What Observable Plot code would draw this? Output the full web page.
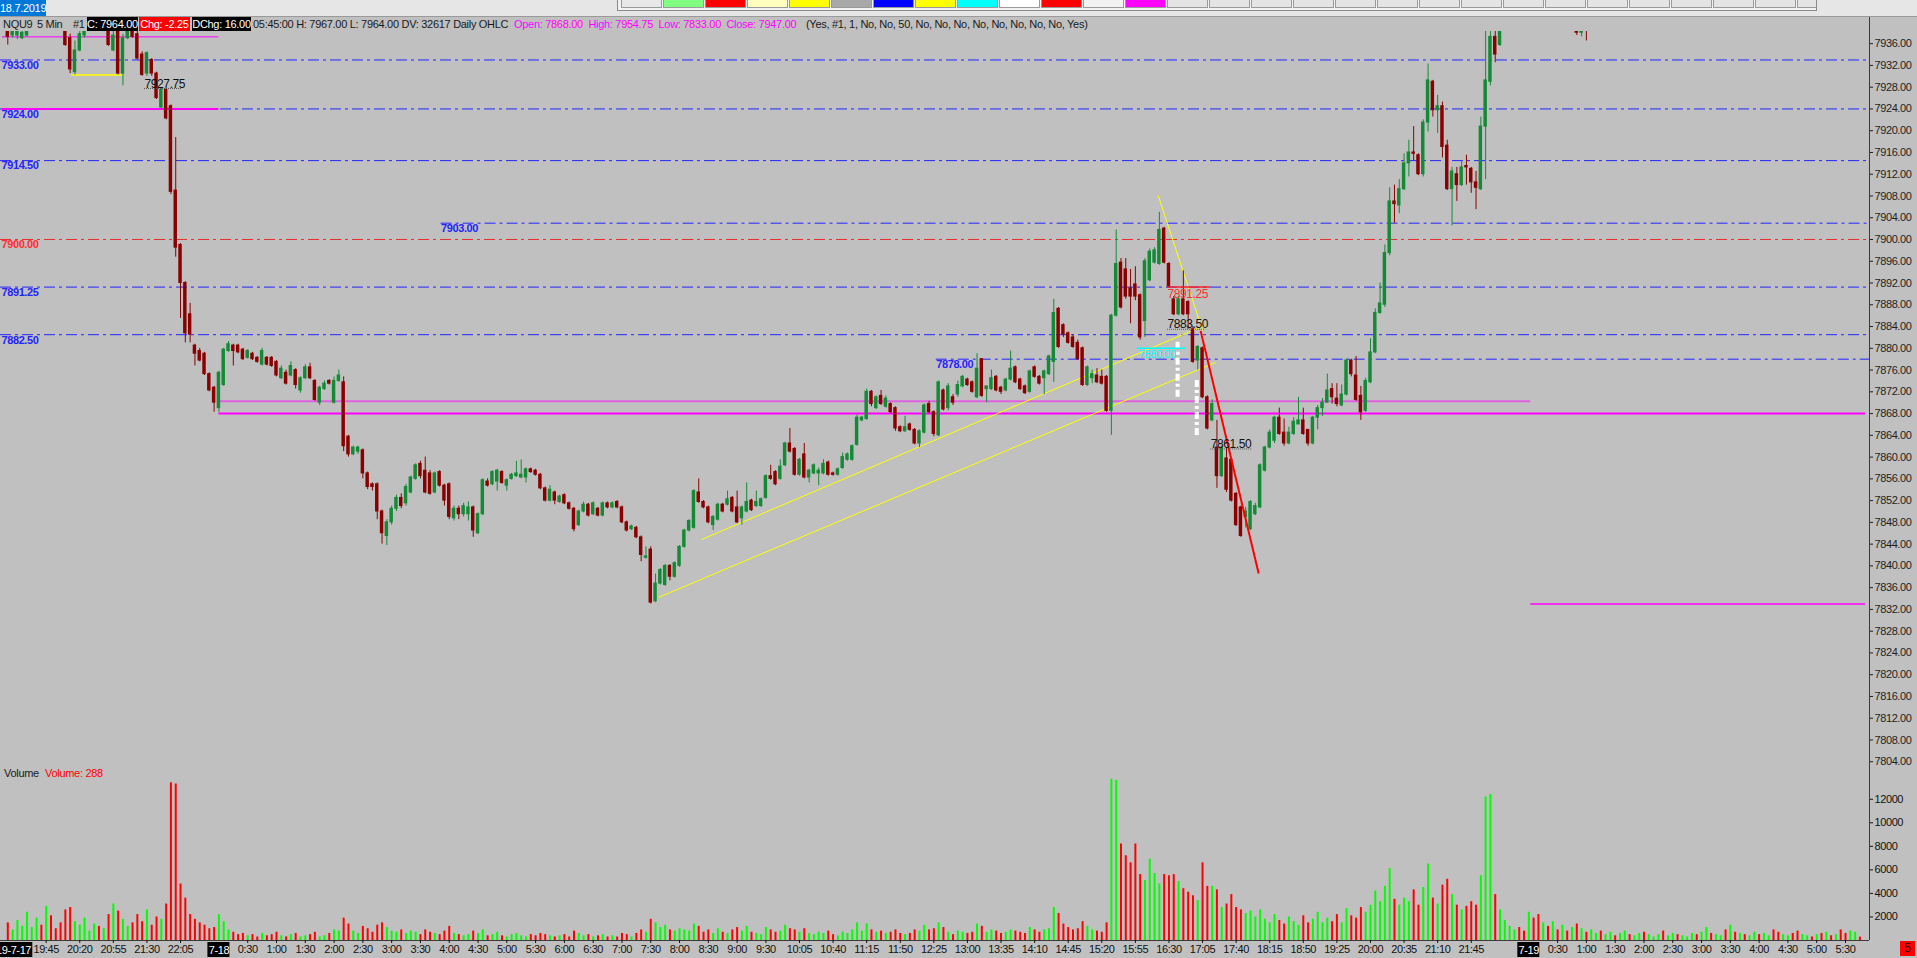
<!DOCTYPE html>
<html><head><meta charset="utf-8">
<script src="https://cdn.jsdelivr.net/npm/d3@7"></script>
<script src="https://cdn.jsdelivr.net/npm/@observablehq/plot@0.6"></script>
<style>
html,body{margin:0;padding:0;background:#c0c0c0;width:1917px;height:958px;overflow:hidden;font-family:"Liberation Sans",Arial,sans-serif;}
#price,#volume{position:absolute;left:0;}
#price{top:0}
#volume{top:770px}
#price svg text,#volume svg text{letter-spacing:-0.4px}
.ov{position:absolute;font-size:11px;line-height:14px;white-space:pre;letter-spacing:-0.3px;color:#1a1a1a}
.box{position:absolute;top:17px;height:14px;line-height:14px;font-size:11px;color:#fff;text-align:center;letter-spacing:-0.3px;white-space:nowrap}
#strip{position:absolute;left:0;top:0;width:1917px;height:16px;background:#e6e6e6;border-bottom:1px solid #9a9a9a}
#datebox{position:absolute;left:0;top:0;width:46px;height:16px;background:#0078d7;color:#fff;font-size:11px;line-height:16px;text-align:center;letter-spacing:-0.3px}
#toolbar{position:absolute;left:617px;top:0;width:1200px;height:11px;background:#f2f2f2;border:1px solid #8a8a8a;border-top:none;display:flex;gap:1px;padding-left:3px;box-sizing:border-box;overflow:hidden}
#toolbar div{flex:0 0 41px;height:8px;border:1px solid #9a9a9a;border-top:none;box-sizing:border-box;background:#e4e4e4}
</style></head><body>
<div id="price"></div>
<div id="volume"></div>
<div id="strip"></div>
<div id="datebox">18.7.2019</div>
<div id="toolbar">
<div style="background:#e8e8e8"></div><div style="background:#80ff80"></div><div style="background:#ff0000"></div><div style="background:#ffffc0"></div><div style="background:#ffff00"></div><div style="background:#a8a8a8"></div><div style="background:#0000ff"></div><div style="background:#ffff00"></div><div style="background:#00ffff"></div><div style="background:#ffffff"></div><div style="background:#ff0000"></div><div style="background:#f2f2f2"></div><div style="background:#ff00ff"></div><div></div><div></div><div></div><div></div><div></div><div></div><div></div><div></div><div></div><div></div><div></div><div></div><div></div><div></div><div></div><div></div>
</div>
<div class="ov" style="left:3px;top:17px">NQU9</div>
<div class="ov" style="left:37px;top:17px">5 Min</div>
<div class="ov" style="left:73px;top:17px">#1</div>
<div class="box" style="left:87px;width:51px;background:#000">C: 7964.00</div>
<div class="box" style="left:139px;width:51px;background:#ff0000">Chg: -2.25</div>
<div class="box" style="left:192px;width:59px;background:#000">DChg: 16.00</div>
<div class="ov" style="left:253px;top:17px">05:45:00 H: 7967.00 L: 7964.00 DV: 32617 Daily OHLC</div>
<div class="ov" style="left:514px;top:17px;color:#ff00ff">Open: 7868.00  High: 7954.75  Low: 7833.00  Close: 7947.00</div>
<div class="ov" style="left:806px;top:17px">(Yes, #1, 1, No, No, 50, No, No, No, No, No, No, No, No, Yes)</div>
<div class="ov" style="left:4px;top:766px">Volume</div>
<div class="ov" style="left:45px;top:766px;color:#ff0000">Volume: 288</div>
<div style="position:absolute;left:1900px;top:941px;width:15px;height:15px;background:#ff0000;color:#400;font-size:12px;line-height:15px;text-align:center">5</div>
<script>
// ---------------- DATA ----------------
const sessions = [
  {name: "2019-7-17", start: "19:05"},
  {name: "7-18", start: "0:00"},
  {name: "7-19", start: "0:00"}
];
// [open, high, low, close]
const candles0717 = [
 [7939.5,7940.5,7935.75,7937.25],[7937.5,7939,7937,7938.25],[7937.5,7939,7936.75,7938.25],[7937,7938.75,7936.75,7938],
 [7937.5,7939.5,7937.25,7938.5],[7938.5,7941.5,7938.25,7941],[7941,7943.25,7940.5,7942.75],[7942.75,7944,7941.5,7942],
 [7942,7945.5,7941.75,7945],[7945,7946.25,7943.5,7944],[7944,7944.75,7941.75,7942.5],[7942.5,7943.5,7940.5,7941.75],
 [7941.75,7942.5,7935.5,7935.75],[7937,7937.75,7930.5,7931.25],[7930.75,7936.5,7930.25,7934.75],[7934.75,7939,7934.5,7937.75],
 [7937.5,7940,7937,7939.5],[7939.25,7941.5,7939,7941],[7941,7943,7940.25,7942.25],[7942.25,7943.5,7941,7941.5],
 [7941.5,7942.75,7940.5,7942],[7942,7943.5,7935.5,7935.75],[7934.75,7939,7934.5,7937.5],[7938.5,7940,7930.25,7930.5],
 [7930.5,7937.75,7928.25,7937],[7937,7940,7936.75,7939.5],[7940,7940.75,7937,7937.25],[7937.75,7939,7933,7933.25],
 [7934,7934.5,7930,7930.25],[7930.5,7934.5,7930,7934.25],[7933,7933.25,7930,7930.5],[7930.5,7930.75,7925.75,7926],
 [7924.25,7927.75,7924,7927.5],[7927.5,7927.75,7922,7922.25],[7924.5,7924.75,7908.25,7908.75],[7909,7918.75,7896.75,7898.5],
 [7899,7899.25,7885.5,7892],[7892,7892.25,7881,7882.75],[7886.25,7888.25,7881,7882.5],[7880.5,7880.75,7876.75,7879],
 [7879.5,7880,7877.5,7877.75],[7879,7879.25,7875,7875.25],[7875.25,7875.5,7872,7872.25],[7872.75,7873,7868.25,7870]
];
const candles0718 = [
 // 0:00
 [7869,7875.75,7868.25,7875.5],[7873.25,7880,7873,7879.75],[7879.5,7881.25,7879.25,7880.75],[7880.5,7880.75,7876.75,7879.5],
 [7880.5,7880.75,7879,7879.25],[7879.75,7880,7877.75,7878],[7878.25,7879.75,7878,7879.5],[7879,7879.25,7877.75,7878],
 [7878.25,7878.5,7877.25,7877.5],[7877,7880,7876.75,7879.5],[7878.25,7878.5,7876.75,7877],[7878.25,7878.5,7876.5,7876.75],
 // 1:00
 [7877.5,7877.75,7874.75,7875],[7874.5,7876.75,7874.25,7876.25],[7875.5,7876,7873.25,7873.5],[7875,7877.5,7874.75,7876.75],
 [7876,7876.25,7872.5,7873.25],[7872.25,7874.75,7871.75,7874.5],[7874.5,7877,7874.25,7876.5],[7876.5,7877.25,7874.25,7874.5],
 [7874,7874.25,7870.25,7870.5],[7870,7873,7869.5,7872.75],[7872.5,7874,7872.25,7873.5],[7874,7874.25,7873.25,7873.5],
 // 2:00
 [7870,7874.75,7869.75,7874],[7874,7876,7873.75,7875],[7873.75,7874.75,7861,7862],[7863.75,7864,7860,7860.5],
 [7860.5,7862,7860.25,7861.75],[7861,7862,7860.5,7861.75],[7861.25,7861.5,7856,7857],[7857,7857.25,7854,7854.5],
 [7855,7855.25,7853.75,7854.5],[7855,7855.25,7848.5,7850],[7850,7850.25,7844,7846],[7845.5,7848.5,7843.75,7848],
 // 3:00
 [7848,7851,7847.5,7850.5],[7850.5,7853,7850,7852.5],[7852.5,7853.25,7850.5,7851],[7851.5,7855,7851,7854.5],
 [7853.5,7856.5,7853.25,7856.25],[7856,7858.75,7855.75,7858.5],[7858.75,7859.25,7856,7856.5],[7857.5,7860,7853.25,7853.5],
 [7857,7857.5,7853,7853.25],[7853.5,7857.25,7853.25,7857],[7857.25,7857.5,7854.5,7854.75],[7854.75,7855,7851,7852],
 // 4:00
 [7855,7855.25,7848.5,7849],[7848.75,7851,7848.25,7850.5],[7850.5,7851,7848.5,7849.5],[7849.5,7851.5,7849,7851],
 [7849.5,7851.75,7848.25,7850.75],[7850.75,7851,7845.25,7846.5],[7846,7849.75,7845.75,7849.5],[7849.5,7856,7849.25,7855.75],
 [7855.5,7856,7854.5,7854.75],[7855,7857.5,7854.75,7857.25],[7855.5,7857.75,7853.75,7857.5],[7857.25,7857.5,7855,7855.25],
 // 5:00
 [7854.75,7856,7853.75,7855.75],[7856,7857,7855.75,7856.75],[7856.5,7859.25,7856.25,7857],[7856.25,7859.5,7856,7856.75],
 [7856.25,7858,7855.25,7857.75],[7857.75,7858,7857,7857.25],[7857.5,7857.75,7856.5,7856.75],[7856.75,7857,7854,7854.25],
 [7854.25,7854.5,7851.75,7852],[7852,7854.75,7851.75,7854],[7853.5,7853.75,7851.25,7852],[7851.75,7853,7851.5,7852.75],
 // 6:00
 [7853,7853.25,7851.25,7851.5],[7851.5,7851.75,7850.25,7850.5],[7850.5,7850.75,7846.25,7846.75],[7847.5,7850.25,7847.25,7850],
 [7850,7851.75,7849.75,7851.25],[7851.25,7851.5,7849,7849.25],[7849.5,7851.75,7849.25,7851.5],[7850.5,7850.75,7849,7849.25],
 [7849.25,7851.75,7849,7851.5],[7851.5,7851.75,7850.5,7850.75],[7850.75,7851.75,7850.5,7851.5],[7851.75,7852,7850.5,7850.75],
 // 7:00
 [7850.75,7851,7847.75,7848],[7848,7848.25,7846.25,7846.5],[7846.75,7847.5,7846.5,7847.25],[7847,7847.25,7845,7845.25],
 [7845.25,7845.5,7840.75,7842],[7841.5,7843.5,7841.25,7841.75],[7843,7843.5,7833,7833.25],[7833.5,7838.5,7833.25,7836.75],
 [7836.75,7839.5,7836.5,7839.25],[7836.5,7840.25,7836.25,7840],[7840,7840.25,7837.25,7838],[7838,7840.75,7837.75,7840.5],
 // 8:00
 [7840,7843.75,7839.75,7843.5],[7843.5,7846.75,7843.25,7846.5],[7846.5,7848.5,7846.25,7848.25],[7847,7854,7846.75,7853.75],
 [7853.5,7856,7851.5,7851.75],[7851.75,7852,7850.5,7850.75],[7850.75,7851,7847.75,7848],[7847.5,7849.25,7846.5,7849],
 [7848.5,7851.5,7848.25,7851.25],[7851.25,7851.5,7849.75,7850],[7851.25,7853.75,7851,7852.25],[7852.5,7852.75,7849.75,7850],
 // 9:00
 [7850.75,7853.75,7847.75,7848],[7848.75,7851,7847.5,7850.75],[7850,7855.25,7849.75,7851.75],[7852,7852.25,7850,7850.25],
 [7851,7853.75,7850.75,7851.75],[7851,7852.5,7850.75,7852.25],[7852.5,7856.75,7852.25,7856.5],[7856.5,7858.5,7855.75,7856],
 [7857.25,7857.5,7854.75,7855],[7856,7859.5,7855.75,7858.25],[7858.5,7862.75,7858.25,7862.5],[7862.5,7865.25,7860.75,7861],
 // 10:00
 [7861.5,7861.75,7856.5,7856.75],[7856.75,7859.75,7856.5,7859.5],[7860.5,7862.5,7856,7856.25],[7856.25,7857.75,7855.25,7857.5],
 [7857,7858.75,7856.75,7858.5],[7857,7858,7854.75,7857.5],[7857,7859.5,7856.75,7858.75],[7859,7859.25,7856.5,7856.75],
 [7857,7857.25,7856.5,7856.75],[7856.75,7858,7856.5,7857.75],[7858,7860.75,7857.75,7860],[7859.5,7860.75,7859.25,7860.5],
 // 11:00
 [7859.5,7862.25,7859.25,7862],[7862.25,7867.75,7862,7867.25],[7866.75,7867.5,7866.5,7867.25],[7867,7872.5,7866.75,7872],
 [7872,7872.25,7869.25,7869.75],[7869,7871.25,7868.75,7871],[7871.25,7872.25,7869.5,7869.75],[7869.25,7871.25,7869,7870.75],
 [7869.75,7870,7868,7868.25],[7869,7869.25,7864.75,7865.25],[7865.5,7865.75,7864.5,7864.75],[7864.75,7867.5,7864.5,7865.5],
 // 12:00
 [7866,7866.25,7864.75,7865],[7865,7865.25,7862.25,7862.5],[7862.5,7865,7861.75,7864.75],[7864.5,7869.75,7864.25,7869.5],
 [7869.75,7870.25,7868,7868.25],[7868.25,7868.5,7863.75,7864.25],[7864,7874,7863.75,7873.75],[7872.25,7872.5,7868.5,7868.75],
 [7869,7873.5,7868.5,7873],[7871,7871.5,7869.5,7870],[7871.5,7874,7871,7873.25],[7873,7875,7872.75,7874.75],
 // 13:00
 [7874.25,7874.5,7873,7873.25],[7873.75,7874,7871.75,7872],[7871,7879,7870.75,7876.25],[7878,7878,7871,7871.25],
 [7872.5,7873,7870,7873],[7872.5,7876,7872.25,7874.5],[7874.75,7875,7872,7872.25],[7872.75,7873,7871.5,7872],
 [7872.25,7874.5,7872,7874.25],[7874.25,7879.5,7874,7876.25],[7876.5,7876.75,7873.5,7873.75],[7874.25,7874.5,7872.25,7872.5],
 // 14:00
 [7873,7873.25,7871.5,7871.75],[7872,7876,7871.75,7875.75],[7876.5,7876.75,7874.5,7874.75],[7874.75,7875,7873.25,7873.5],
 [7874.5,7876,7871.5,7875.75],[7875.25,7878.75,7875,7878.5],[7877.5,7889,7873.75,7886.5],[7887.25,7887.5,7880,7880.25],
 [7884.25,7884.5,7882,7882.5],[7882.75,7883,7880.75,7881],[7882,7882.5,7880,7880.25],[7881,7881.5,7877.75,7878],
 // 15:00
 [7880,7880.25,7873,7873.25],[7873.25,7876.75,7873,7876.5],[7874.5,7876,7873.5,7875.25],[7875,7876.25,7873.5,7873.75],
 [7874.75,7876,7873.25,7873.5],[7874.75,7875,7868.25,7868.5],[7868.5,7886.25,7864,7886],[7886,7901.75,7885.75,7895.5],
 [7895.75,7896.5,7887.25,7887.5],[7894.5,7896.5,7889,7889.5],[7891,7894.5,7884.5,7889.5],[7891.75,7895,7888.75,7889.5],
 // 16:00
 [7889.75,7890,7881.5,7882],[7885,7896.5,7882,7896],[7892.5,7898.25,7892.25,7897.75],[7895.75,7898.5,7895.5,7898],
 [7895.5,7905,7895.25,7901.75],[7902,7902.25,7895.5,7895.75],[7895.5,7895.75,7891,7891.25],[7889,7889.5,7886,7886.25],
 [7886.25,7889.5,7886,7889],[7889,7894.25,7886,7886.25],[7888.5,7888.75,7883.5,7886.25],[7883.5,7884,7877.25,7877.5],
 // 17:00
 [7877.75,7880.5,7876,7880.25],[7880,7880.25,7870.75,7871],[7871,7871.25,7865,7865.25],[7866.75,7870.5,7866.5,7869.75],
 [7861.75,7866.75,7854.25,7856.5],[7856.5,7862,7856.25,7861.75],[7859.75,7861.75,7853.5,7854],[7859.5,7859.75,7851.75,7852],
 [7853.25,7853.5,7847.25,7847.5],[7850.75,7851,7845.25,7845.5],[7849,7850.75,7847,7850],[7846.75,7852,7846.5,7851.75],
 // 18:00
 [7849.5,7851.5,7849.25,7851],[7850.75,7858.75,7850.5,7858.5],[7857.5,7862,7857.25,7861.75],[7861.75,7865,7861.5,7864.5],
 [7863,7867.5,7862.5,7867.25],[7867.25,7869,7864,7864.25],[7864.5,7867,7862,7862.5],[7862.5,7865.5,7862.25,7864.5],
 [7864.25,7867.25,7864,7866.5],[7866,7871,7866,7866.75],[7866.75,7869,7864,7864.25],[7865,7865,7862,7862.5],
 // 19:00
 [7862.5,7867.5,7862.25,7867.25],[7867.25,7869.5,7865,7869],[7869,7870.75,7867.5,7870],[7870,7875.25,7870,7872.25],
 [7872.5,7873.5,7869.75,7871],[7870.75,7873.5,7869.25,7869.75],[7869.5,7873.25,7869.25,7871.5],[7871.5,7878,7871.25,7877.75],
 [7877.75,7878,7874.75,7875.25],[7875,7878.5,7870.25,7870.5],[7871.25,7873,7866.75,7868.25],[7868.5,7874.5,7868.25,7874],
 // 20:00
 [7873.75,7881.75,7873.5,7879.25],[7879.25,7887.25,7879,7886.5],[7886.5,7892,7886.25,7888.25],[7888,7899,7887.5,7897.5],
 [7897.5,7909.5,7897,7907],[7907,7910,7903,7906.5],[7906.25,7911,7904.75,7909.25],[7909.25,7915.75,7909,7914],
 [7914,7918.25,7911.5,7916],[7916,7920.75,7914.5,7915.75],[7915.5,7915.75,7911.75,7912],[7912,7922,7911.5,7921.5],
 // 21:00
 [7921.5,7932.25,7919.75,7929.25],[7929,7929.25,7922.5,7923.75],[7923.75,7926.5,7919.5,7924.5],[7924.5,7925.25,7915,7917],
 [7917.25,7918.25,7909,7909.25],[7909.25,7913.25,7902.5,7912.5],[7912,7913.25,7907,7910],[7910,7914.5,7909.75,7913.25],
 [7913.5,7915.5,7910,7913.25],[7913,7913.25,7908.5,7910.5],[7910.5,7912.5,7905.5,7909.5],[7909.25,7922.5,7909,7920.75],
 // 22:00
 [7920.75,7938.25,7911,7929.25],[7929,7938.5,7928.25,7937.25],[7937.25,7938.5,7932.5,7934],[7935.75,7941,7935.5,7939],
 [7939,7945.5,7938.5,7944.75],[7944.75,7950,7943.5,7949.25],[7949.25,7954.75,7948,7951.5],[7951.5,7952.25,7946.5,7947.5],
 [7947.5,7949,7945.75,7947]
];
const candles0719 = [
 // 0:00
 [7947.25,7949.5,7945,7948.75],[7948.75,7950.25,7946.5,7947],[7947,7948,7943.75,7944.5],[7944.5,7946.75,7943,7946.25],
 [7946.25,7947,7942.5,7943.25],[7943.25,7945,7941.5,7944.5],[7944.5,7945.75,7942.25,7942.75],[7942.75,7944,7941,7943.5],
 [7943.5,7944.25,7940.75,7941.25],[7941.25,7942.5,7939.5,7942],[7942,7942.25,7937.5,7938],[7938,7940.5,7937.25,7940],
 // 1:00
 [7940,7941,7936.5,7938.75],[7938.75,7942,7938.5,7941.5],[7941.5,7943.75,7940.75,7943.25],[7943.25,7944,7941.75,7942.5],
 [7942.5,7945.25,7942,7944.75],[7944.75,7946.5,7944,7945.5],[7945.5,7946,7943.5,7944.25],[7944.25,7947.25,7944,7946.75],
 [7946.75,7948,7945.75,7947.5],[7947.5,7948.25,7946,7946.5],[7946.5,7949,7946.25,7948.75],[7948.75,7950.5,7948.25,7950],
 // 2:00
 [7950,7951.25,7948.5,7949],[7949,7950,7947.75,7949.75],[7949.75,7951.5,7949.25,7951],[7951,7952.75,7950.5,7952.25],
 [7952.25,7953,7950.75,7951.25],[7951.25,7952.5,7950.5,7952],[7952,7954.25,7951.75,7953.75],[7953.75,7954.5,7952.25,7952.75],
 [7952.75,7953.5,7951.5,7953],[7953,7955.25,7952.75,7954.75],[7954.75,7956,7954,7955.5],[7955.5,7956.25,7953.75,7954.25],
 // 3:00
 [7954.25,7955.5,7953.5,7955.25],[7955.25,7957.25,7955,7956.75],[7956.75,7957.5,7955.5,7956],[7956,7958.25,7955.75,7958],
 [7958,7959.5,7957.5,7958.75],[7958.75,7959,7956.75,7957.25],[7957.25,7960.5,7957,7960.25],[7960.25,7961.5,7959.25,7959.75],
 [7959.75,7960.75,7958.5,7960.5],[7960.5,7961.25,7959,7959.5],[7959.5,7960.25,7958.25,7960],[7960,7962,7959.75,7961.75],
 // 4:00
 [7961.75,7962.5,7960.25,7960.75],[7960.75,7961.5,7959.5,7961.25],[7961.25,7963,7961,7962.5],[7962.5,7963.25,7961.5,7962],
 [7962,7962.75,7960.5,7961],[7961,7962.25,7960.25,7962],[7962,7964.5,7961.75,7964],[7964,7964.75,7962.5,7963],
 [7963,7963.75,7961.75,7962.25],[7962.25,7963.5,7961.5,7963.25],[7963.25,7965,7963,7964.5],[7964.5,7965.25,7963.25,7963.75],
 // 5:00
 [7963.75,7965.5,7963.5,7965.25],[7965.25,7966,7964.25,7964.75],[7964.75,7966.25,7964.5,7966],[7966,7966.75,7965,7965.5],
 [7965.5,7966.5,7964.75,7966.25],[7966.25,7967,7965.5,7966],[7966,7966.5,7964.25,7964.75],[7964.75,7966.5,7964.5,7966.25],
 [7966.25,7966.75,7965.75,7966.25],[7966.25,7967,7964,7964]
];
const volume0717 = [1500,900,1700,1200,2400,1100,1900,1300,2900,2100,1000,1500,2600,2800,1600,1300,1900,800,1400,1200,
 1000,2200,3100,2500,1800,1200,1500,2200,1600,2600,1300,2000,1800,3100,13400,13300,4800,3600,2200,1800,1500,1300,1000,1100];
const volume0718 = [
 2200,1600,900,700,500,600,400,500,300,600,400,500,700,400,300,500,600,300,400,500,700,300,400,600,
 900,800,1900,1400,800,600,1200,1000,700,1300,1500,1100,800,700,900,600,800,700,500,900,700,600,500,800,
 1200,600,500,400,500,800,600,900,400,500,700,400,300,500,600,400,300,500,400,600,500,400,300,400,
 500,300,800,600,400,500,300,400,500,300,400,300,600,500,300,600,900,700,1800,1500,1100,1300,900,800,
 1000,900,800,1400,1200,700,900,600,1000,700,600,900,1100,800,1200,700,600,500,1100,900,700,800,1300,1000,
 900,700,1000,600,500,700,600,800,500,400,700,600,900,1500,800,1400,900,700,800,600,700,900,600,500,
 600,900,800,1300,900,1000,1500,1100,700,500,800,700,600,700,1400,1200,700,900,800,600,700,900,800,700,
 600,1100,900,700,900,1000,2800,2300,1400,1100,900,1000,1600,1200,900,800,700,1500,13700,13600,8200,7200,6600,8200,
 5600,5100,6900,5700,4800,5600,5500,5600,5000,4400,4100,3800,3400,6600,4600,4600,4300,2800,3100,3900,2800,2600,2300,2500,
 2000,2600,1800,1500,2200,1700,1400,2000,1600,1300,2100,1500,1800,2400,1500,1900,1600,2200,1500,2700,2100,1900,2800,2400,
 3000,4200,3300,4600,6100,3500,3000,3600,3300,4300,3000,4500,6500,3600,3100,4700,5200,3900,3000,2600,2900,3300,3000,5500,
 12200,12400,3900,2600,1700,1200,900,1100,800
];
const volume0719 = [2400,1900,2200,1500,1200,1600,900,1300,800,1100,1400,1000,700,900,600,800,500,700,400,600,
 800,500,400,600,700,500,300,500,800,400,600,500,400,300,600,500,700,1100,600,500,
 400,900,1300,700,600,500,400,700,500,600,400,900,700,500,400,600,800,500,400,300,
 500,600,700,400,500,900,600,800,700,288];
const timeLabels0717 = ["19:45","20:20","20:55","21:30","22:05"];
const timeLabels0718 = ["0:30","1:00","1:30","2:00","2:30","3:00","3:30","4:00","4:30","5:00","5:30","6:00","6:30","7:00","7:30",
 "8:00","8:30","9:00","9:30","10:05","10:40","11:15","11:50","12:25","13:00","13:35","14:10","14:45","15:20","15:55","16:30",
 "17:05","17:40","18:15","18:50","19:25","20:00","20:35","21:10","21:45"];
const timeLabels0719 = ["0:30","1:00","1:30","2:00","2:30","3:00","3:30","4:00","4:30","5:00","5:30"];
const priceTicks = d3.range(7804, 7937, 4);
const volumeTicks = [2000, 4000, 6000, 8000, 10000, 12000];
// chart drawings (anchors: bar index, price)
const fullLevels = [7933, 7924, 7914.5, 7891.25, 7882.5];
const partialLevels = [{price: 7903, from: 90.3}, {price: 7878, from: 193.5}];
const roundLevel = [7900];
const priorHighLines = [{price: 7937.25, from: -1.1, to: 44}];
const priorThickLines = [{price: 7924, from: -1.1, to: 44}, {price: 7868, from: 44, to: 387.2}];
const priorLightLines = [{price: 7870.25, from: 44, to: 317.4}];
const priorLowLines = [{price: 7833, from: 317.4, to: 387.2}];
const yellowFlat = [{price: 7930.25, from: 13.3, to: 24.2}];
const yellowTrends = [
  {x1: 135.6, y1: 7834.2, x2: 251.7, y2: 7877.4},
  {x1: 144.6, y1: 7844.85, x2: 249.4, y2: 7884.2},
  {x1: 239.75, y1: 7908.1, x2: 249, y2: 7883.3}
];
const redTrend = [{x1: 248.6, y1: 7883.2, x2: 260.7, y2: 7838.6}];
const measureBars = [{x: 243.8, y1: 7881.1, y2: 7870.7}, {x: 247.8, y1: 7874.1, y2: 7863.7}];
const priceMarkers = [{price: 7927.75, from: 28.5, to: 36.2}, {price: 7883.5, from: 241.7, to: 249.5}, {price: 7861.5, from: 250.7, to: 259.4}];
const redMarker = [{price: 7891.25, from: 241.7, to: 250.7}];
const cyanMarker = [{price: 7880, from: 235.4, to: 245.5}];

// ---------------- BUILD ----------------
const candleSets = [candles0717, candles0718, candles0719];
const volumeSets = [volume0717, volume0718, volume0719];
const labelSets = [timeLabels0717, timeLabels0718, timeLabels0719];
const toMin = s => { const [h, m] = s.split(":").map(Number); return h * 60 + m; };
const fmt = m => `${Math.floor(m / 60)}:${String(m % 60).padStart(2, "0")}`;
const bars = [];
sessions.forEach((s, k) => {
  const t0 = toMin(s.start);
  candleSets[k].forEach(([o, h, l, c], j) => {
    bars.push({i: bars.length, session: k, time: fmt(t0 + 5 * j), o, h, l, c, v: volumeSets[k][j] ?? 0});
  });
});
const xTicks = [];
labelSets.forEach((labels, k) => labels.forEach(t => {
  const b = bars.find(b => b.session === k && b.time === t);
  if (b) xTicks.push({i: b.i, label: t});
}));
const tickLabel = new Map(xTicks.map(d => [d.i, d.label]));
const dateMarks = sessions.map((s, k) => ({i: bars.find(b => b.session === k).i, label: s.name}));
const xDomain = [-1.52, bars.length + 1];
const yTop = 7938.235, yBottom = 7802.39;
const GREEN = "#148a37", RED = "#8a0000";
const up = d => d.c >= d.o;
const font = "Liberation Sans, Arial, sans-serif";
const BLUE = "#2424ff";
const levelLabel = p => p.toFixed(2);

const price = Plot.plot({
  width: 1917, height: 770, marginTop: 31, marginBottom: 0, marginLeft: 0, marginRight: 48,
  style: {background: "transparent", fontFamily: font, fontSize: "11px", color: "#1e1e1e"},
  x: {domain: xDomain, axis: null},
  y: {domain: [yBottom, yTop], axis: null},
  marks: [
    Plot.ruleY(fullLevels, {y: d => d, x1: xDomain[0], x2: xDomain[1], stroke: BLUE, strokeDasharray: "11,4,3,4"}),
    Plot.ruleY(partialLevels, {y: "price", x1: "from", x2: xDomain[1], stroke: BLUE, strokeDasharray: "11,4,3,4"}),
    Plot.ruleY(roundLevel, {y: d => d, x1: xDomain[0], x2: xDomain[1], stroke: "#e83030", strokeDasharray: "11,4,3,4"}),
    Plot.ruleY(priorHighLines, {y: "price", x1: "from", x2: "to", stroke: "#ff00ff", strokeWidth: 1}),
    Plot.ruleY(priorThickLines, {y: "price", x1: "from", x2: "to", stroke: "#ff00ff", strokeWidth: 2}),
    Plot.ruleY(priorLightLines, {y: "price", x1: "from", x2: "to", stroke: "#e060e0", strokeWidth: 2}),
    Plot.ruleY(priorLowLines, {y: "price", x1: "from", x2: "to", stroke: "#ff00ff", strokeWidth: 1.5}),
    Plot.ruleY(yellowFlat, {y: "price", x1: "from", x2: "to", stroke: "#ffff00", strokeWidth: 1.5}),
    Plot.link(yellowTrends, {x1: "x1", y1: "y1", x2: "x2", y2: "y2", stroke: "#ffff00", strokeWidth: 1}),
    // candles
    Plot.ruleX(bars, {x: "i", y1: "l", y2: "h", stroke: d => up(d) ? GREEN : RED, strokeWidth: 1, clip: true}),
    Plot.rect(bars, {x1: d => d.i - 0.36, x2: d => d.i + 0.36, y1: "o", y2: "c", fill: d => up(d) ? GREEN : RED,
      insetTop: -0.5, insetBottom: -0.5, clip: true}),
    Plot.link(redTrend, {x1: "x1", y1: "y1", x2: "x2", y2: "y2", stroke: "#ff0000", strokeWidth: 2}),
    Plot.ruleX(measureBars, {x: "x", y1: "y1", y2: "y2", stroke: "#ffffff", strokeWidth: 4, strokeDasharray: "7,3,3,3"}),
    // markers
    Plot.ruleY(priceMarkers, {y: "price", x1: "from", x2: "to", stroke: "#555", strokeDasharray: "1,1"}),
    Plot.text(priceMarkers, {x: "from", y: "price", text: d => levelLabel(d.price), textAnchor: "start", lineAnchor: "bottom", dy: -1, fill: "#111", fontSize: 12}),
    Plot.ruleY(redMarker, {y: "price", x1: "from", x2: "to", stroke: "#ff2020", strokeWidth: 1.5}),
    Plot.text(redMarker, {x: "from", y: "price", text: d => levelLabel(d.price), textAnchor: "start", lineAnchor: "top", dy: 2, fill: "#ff3030", fontSize: 12}),
    Plot.ruleY(cyanMarker, {y: "price", x1: "from", x2: "to", stroke: "#00ffff", strokeWidth: 1.5}),
    Plot.text(cyanMarker, {x: d => d.from + 0.3, y: "price", text: d => levelLabel(d.price), textAnchor: "start", lineAnchor: "top", dy: 2, fill: "#00ffff", fontSize: 11}),
    // level labels
    Plot.text(fullLevels, {x: xDomain[0], y: d => d, text: levelLabel, textAnchor: "start", lineAnchor: "top", dy: 1, dx: 1, fill: BLUE, fontWeight: "bold", fontSize: 11}),
    Plot.text(partialLevels, {x: "from", y: "price", text: d => levelLabel(d.price), textAnchor: "start", lineAnchor: "top", dy: 1, fill: BLUE, fontWeight: "bold", fontSize: 11}),
    Plot.text(roundLevel, {x: xDomain[0], y: d => d, text: levelLabel, textAnchor: "start", lineAnchor: "top", dy: 1, dx: 1, fill: "#ff3030", fontWeight: "bold", fontSize: 11}),
    // right axis
    Plot.ruleX([xDomain[1]], {y1: yBottom, y2: 7941, stroke: "#3a3a3a"}),
    Plot.axisY({anchor: "right", ticks: priceTicks, tickFormat: d => d.toFixed(2), tickSize: 3, tickPadding: 2, fontSize: 11, label: null})
  ]
});
document.getElementById("price").appendChild(price);

const volume = Plot.plot({
  width: 1917, height: 188, marginTop: 0, marginBottom: 18, marginLeft: 0, marginRight: 48,
  style: {background: "transparent", fontFamily: font, fontSize: "11px", color: "#111"},
  x: {domain: xDomain, axis: null},
  y: {domain: [0, 14444], axis: null},
  marks: [
    Plot.ruleX(bars, {x: "i", y1: 0, y2: "v", stroke: d => up(d) ? "#00ff00" : "#ff0000", strokeWidth: 2}),
    Plot.ruleY([0], {x1: xDomain[0], x2: xDomain[1], stroke: "#3a3a3a"}),
    Plot.ruleX([xDomain[1]], {stroke: "#3a3a3a"}),
    Plot.axisY({anchor: "right", ticks: volumeTicks, tickFormat: d => String(d), tickSize: 3, tickPadding: 2, fontSize: 11, label: null}),
    Plot.axisX({ticks: xTicks.map(d => d.i), tickFormat: i => tickLabel.get(i), tickSize: 3, tickPadding: 2, fontSize: 11, label: null}),
    Plot.rect(dateMarks.slice(1), {x1: "i", x2: "i", y1: 0, y2: 0, insetLeft: -11, insetRight: -11, insetTop: 2, insetBottom: -17, fill: "#000"}),
    Plot.rect(dateMarks.slice(0, 1), {x1: "i", x2: "i", y1: 0, y2: 0, insetLeft: -26, insetRight: -25, insetTop: 2, insetBottom: -17, fill: "#000"}),
    Plot.text(dateMarks, {x: "i", y: 0, text: "label", fill: "#fff", dy: 10, lineAnchor: "middle", fontSize: 11})
  ]
});
document.getElementById("volume").appendChild(volume);
</script>
</body></html>
